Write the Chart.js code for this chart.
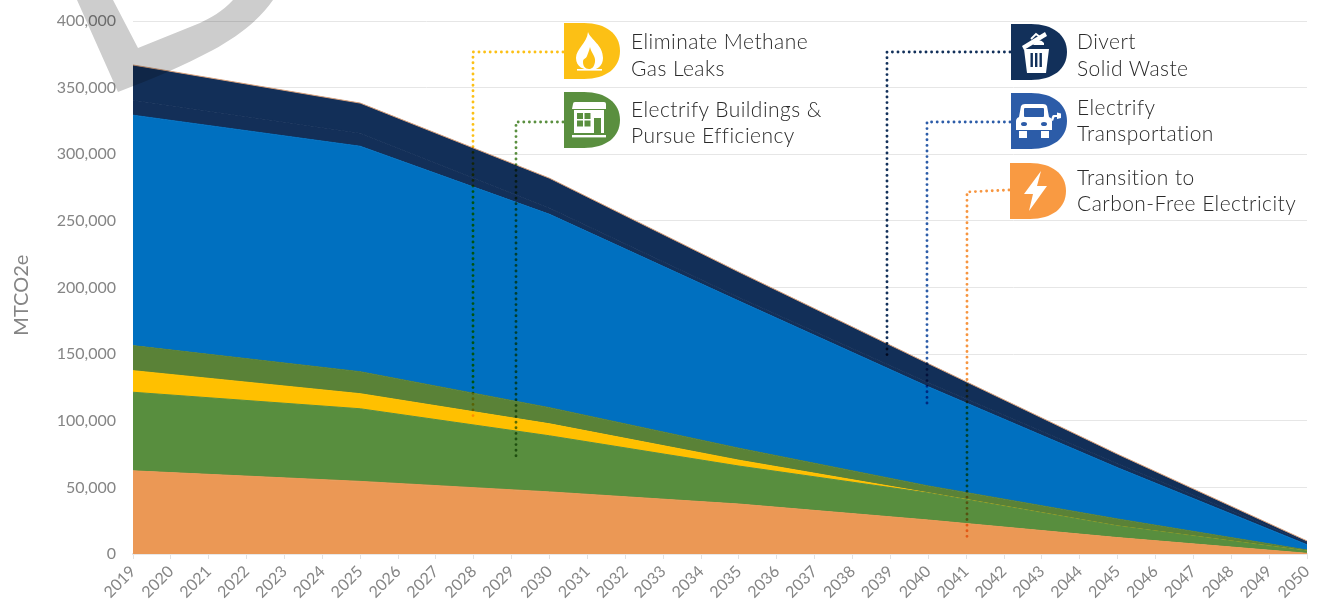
<!DOCTYPE html>
<html>
<head>
<meta charset="utf-8">
<title>Emissions reduction pathway</title>
<script src="https://cdn.jsdelivr.net/npm/chart.js@4"></script>
<style>
    html, body { margin: 0; padding: 0; background: #fff; }
    #wrap { position: relative; width: 1319px; height: 602px; overflow: hidden; background: #fff; }
    canvas { position: absolute; left: 0; top: 0; }
    svg.overlay { position: absolute; left: 0; top: 0; pointer-events: none; }
    svg.blend { mix-blend-mode: multiply; }
    .label { position: absolute; font: 300 21px/26px Lato, sans-serif; color: #2a2a2a; white-space: nowrap; letter-spacing: 0.45px; }
</style>
</head>
<body>
<div id="wrap">
    <canvas id="chart" width="1319" height="602"></canvas>

    <!-- watermark D and leader lines, multiplied over the chart -->
    <svg class="overlay blend" width="1319" height="602">
        <path d="M77 0 L118 92 C150 80 185 65 213 50 C235 38 258 22 273 0 L233 0 C222 12 210 18 200 23 L138 48 L113 0 Z" fill="#cdcdcd"/>
        <g fill="none" stroke-width="2.9" stroke-linecap="round" stroke-dasharray="0 5.6">
            <polyline points="563,52 473,52 473,419" stroke="#fcc015"/>
            <polyline points="563,122 516,122 516,456" stroke="#5a8f3f"/>
            <polyline points="1010,52 887,52 887,358" stroke="#12305a"/>
            <polyline points="1010,122 927,122 927,407" stroke="#2c5ca8"/>
            <polyline points="1009,190 967,192 967,541" stroke="#f7953f"/>
        </g>
    </svg>

    <!-- D shaped icons -->
    <svg class="overlay" width="1319" height="602">
        <defs>
            <path id="dshape" d="M0 0 H20 C42 0 56 11 56 28 C56 45 42 56 20 56 H0 Z"/>
        </defs>
        <g transform="translate(564,23)">
            <use href="#dshape" fill="#fcc015"/>
            <path d="M24 9 C27 17 39 22 39 35 C39 43 33 47 27 47 C20 47 12 44 12 35 C12 26 23 20 24 9 Z" fill="#fff"/>
            <path d="M26 24 C27 30 32 33 31 39 C30 44 28 46 25 46 C21 46 19 43 19 39 C19 35 22 36 23 33 C24 30 25 28 26 24 Z" fill="#fcc015"/>
            <rect x="13" y="46" width="25" height="1.6" fill="#fff"/>
        </g>
        <g transform="translate(564,92)">
            <use href="#dshape" fill="#5a8f3f"/>
            <path d="M9 12 Q9 10 11 10 H40 Q42 10 42 12 V17 H8 Z" fill="#fff"/>
            <path d="M10 18 H40 V41 H10 Z" fill="#fff"/>
            <rect x="13" y="21" width="6" height="6" fill="#5a8f3f"/>
            <rect x="20.5" y="21" width="6" height="6" fill="#5a8f3f"/>
            <rect x="13" y="28.5" width="6" height="6" fill="#5a8f3f"/>
            <rect x="20.5" y="28.5" width="6" height="6" fill="#5a8f3f"/>
            <rect x="30" y="26" width="7" height="15" fill="#5a8f3f"/>
            <rect x="8" y="43" width="34" height="2.4" fill="#fff"/>
        </g>
        <g transform="translate(1011,24)">
            <use href="#dshape" fill="#12305a"/>
            <path d="M11 22 L34 8 L36 12 L13 26 Z" fill="#fff"/>
            <path d="M20 15 L25 10 L29 13" fill="none" stroke="#fff" stroke-width="1.8"/>
            <path d="M25 17 Q30 15 33 19 L33 21 H22 Z" fill="#fff"/>
            <path d="M13 25 H38 L35 49 H16 Z" fill="#fff"/>
            <rect x="19.5" y="29" width="2.4" height="14" fill="#12305a"/>
            <rect x="24" y="29" width="2.4" height="14" fill="#12305a"/>
            <rect x="28.5" y="29" width="2.4" height="14" fill="#12305a"/>
        </g>
        <g transform="translate(1011,93)">
            <use href="#dshape" fill="#2c5ca8"/>
            <path d="M10 13 Q11 11 14 11 H32 Q35 11 36 13 L38 24 Q41 25 41 28 V37 H5 V28 Q5 25 8 24 Z" fill="#fff"/>
            <rect x="13" y="15" width="20" height="9" rx="1" fill="#2c5ca8"/>
            <ellipse cx="13" cy="31" rx="3" ry="2" fill="#2c5ca8"/>
            <ellipse cx="33" cy="31" rx="3" ry="2" fill="#2c5ca8"/>
            <rect x="8" y="38" width="8" height="7" fill="#fff"/>
            <rect x="30" y="38" width="8" height="7" fill="#fff"/>
            <path d="M40 27 C41 24 41 22 43 22 H46 V19.5 L50 20.5 V25 L46 26 V24 H44 C43 24 43 26 42 28 Z" fill="#fff"/>
        </g>
        <g transform="translate(1010,163)">
            <use href="#dshape" fill="#f99a42"/>
            <path d="M31 8 L14 31 H23 L19 48 L37 23 H27 Z" fill="#fff"/>
        </g>
    </svg>

    <div class="label" style="left:631px;top:27px;line-height:27px">Eliminate Methane<br>Gas Leaks</div>
    <div class="label" style="left:631px;top:96px">Electrify Buildings &amp;<br>Pursue Efficiency</div>
    <div class="label" style="left:1077px;top:27px;line-height:27px">Divert<br>Solid Waste</div>
    <div class="label" style="left:1077px;top:94px">Electrify<br>Transportation</div>
    <div class="label" style="left:1077px;top:164px">Transition to<br>Carbon-Free Electricity</div>
</div>

<script>
// years where the slopes visibly change, everything in MTCO2e
const years = [2019, 2025, 2030, 2035, 2040, 2045, 2050];

// stacked from the bottom up
const carbonFree     = [62400, 54500, 46600, 37500, 25500, 12300, 500];
const buildings      = [59000, 54500, 42100, 28500, 20300, 8700, 1700];
const methane        = [16200, 11300, 9000, 4400, 100, 0, 0];
const efficiency     = [18800, 16500, 12100, 9000, 5200, 5300, 800];
const transportation = [172900, 169200, 145100, 110400, 74400, 38400, 4000];
const wasteLower     = [11300, 9800, 4500, 2700, 3000, 3000, 1800];
const wasteUpper     = [26400, 22600, 22600, 19100, 14400, 7200, 1000];

const GREY = '#858585';

const toPoints = values => values.map((v, i) => ({ x: years[i], y: v }));

const layer = (label, values, color, fill, border) => ({
    label,
    data: toPoints(values),
    backgroundColor: color,
    borderColor: border || color,
    borderWidth: 1,
    fill,
    pointRadius: 0,
    tension: 0
});

new Chart(document.getElementById('chart').getContext('2d'), {
    type: 'line',
    data: {
        datasets: [
            layer('Transition to Carbon-Free Electricity', carbonFree, '#eb9855', 'origin'),
            layer('Electrify Buildings', buildings, '#588e3e', '-1'),
            layer('Eliminate Methane Gas Leaks', methane, '#ffc000', '-1'),
            layer('Pursue Efficiency', efficiency, '#5a8237', '-1'),
            layer('Electrify Transportation', transportation, '#0070c0', '-1'),
            layer('Divert Solid Waste (a)', wasteLower, '#132f58', '-1'),
            layer('Divert Solid Waste (b)', wasteUpper, '#122f58', '-1', '#d9a07a')
        ]
    },
    options: {
        responsive: false,
        animation: false,
        layout: { padding: { top: 21, right: 12, left: 0, bottom: 0 } },
        plugins: { legend: { display: false }, tooltip: { enabled: false } },
        scales: {
            x: {
                type: 'linear',
                min: 2019,
                max: 2050,
                // the label padding chart.js reserves would move the plot edges off the reference
                afterFit: scale => { scale.height = 48; scale.paddingRight = 0; scale.paddingLeft = 0; },
                grid: { drawOnChartArea: false, color: '#e2e2e2', tickLength: 5, tickColor: '#e2e2e2' },
                border: { color: '#e8e8e8', width: 2 },
                ticks: {
                    stepSize: 1,
                    autoSkip: false,
                    minRotation: 45,
                    maxRotation: 45,
                    padding: 3,
                    color: GREY,
                    font: { family: 'Lato', size: 16 },
                    callback: v => String(v)
                }
            },
            y: {
                stacked: true,
                min: 0,
                max: 400000,
                afterFit: scale => { scale.width = 133; scale.paddingTop = 0; scale.paddingBottom = 0; },
                grid: { color: '#e6e6e6', drawTicks: false },
                border: { display: false },
                // trailing spaces push the rotated text a bit below the axis centre
                title: { display: true, text: 'MTCO2e\u00a0\u00a0\u00a0', color: GREY, font: { family: 'Lato', size: 20 }, padding: { top: 10, bottom: 0 } },
                ticks: {
                    stepSize: 50000,
                    padding: 17,
                    color: GREY,
                    font: { family: 'Lato', size: 16 },
                    callback: v => v.toLocaleString('en-US')
                }
            }
        }
    }
});
</script>
</body>
</html>
